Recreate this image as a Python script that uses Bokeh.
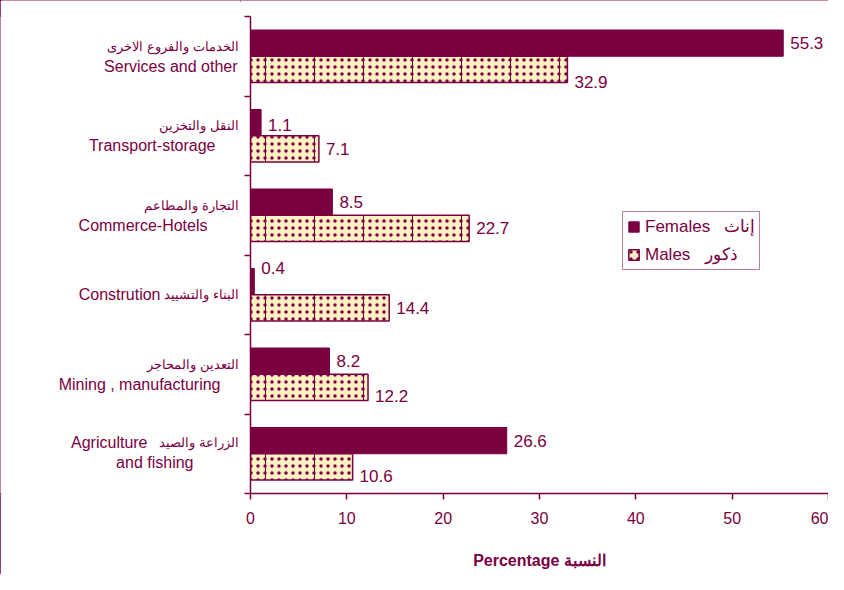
from bokeh.plotting import figure
from bokeh.layouts import row
from bokeh.models import Range1d, LinearAxis, FixedTicker, ColumnDataSource, LabelSet, Legend, LegendItem
from bokeh.core.properties import value
from bokeh.transform import dodge
from bokeh.embed import file_html
from bokeh.resources import INLINE

# ---- data (bottom to top) ----
sectors_en = ["Agriculture and fishing", "Mining , manufacturing", "Constrution",
              "Commerce-Hotels", "Transport-storage", "Services and other"]
sectors_ar = ["الزراعة والصيد", "التعدين والمحاجر", "البناء والتشييد",
              "التجارة والمطاعم", "النقل والتخزين", "الخدمات والفروع الاخرى"]
females = [26.6, 8.2, 0.4, 8.5, 1.1, 55.3]
males = [10.6, 12.2, 14.4, 22.7, 7.1, 32.9]
x_ticks = [0, 10, 20, 30, 40, 50, 60]

MAROON = "#7A0042"
CREAM = "#FFF1C1"
FONT = "Liberation Sans"

idx = [i + 0.5 for i in range(len(sectors_en))]
yr = Range1d(0, len(sectors_en))

H, TOP, BOT = 574, 16, 81
LW, B = 240, 10

# ---- left panel with the category labels ----
pl = figure(width=LW, height=H, output_backend="svg", toolbar_location=None,
            x_range=Range1d(0, 1), y_range=yr, x_axis_location=None, y_axis_location=None,
            min_border_left=0, min_border_right=0, min_border_top=TOP, min_border_bottom=BOT)
pl.outline_line_color = None
pl.xgrid.visible = False
pl.ygrid.visible = False
pl.styles = {"box-shadow": "inset 2px 0 0 0 #7A0042, inset 0 2px 0 0 #B0608C"}

# layout of each text line: (text, right-edge offset px, vertical offset px)
en_lines, ar_lines = [], []
for i, (en, ar) in enumerate(zip(sectors_en, sectors_ar)):
    y = idx[i]
    if en == "Constrution":
        en_lines.append((y, en, -80, 0))
        ar_lines.append((y, ar, -2, 0))
    elif en.startswith("Agriculture"):
        en_lines.append((y, "Agriculture", -93, -11))
        en_lines.append((y, "and fishing", -47, 9))
        ar_lines.append((y, ar, -2, -11))
    else:
        eoff = {"Services and other": -3, "Transport-storage": -25,
                "Commerce-Hotels": -33, "Mining , manufacturing": -20}[en]
        ar_lines.append((y, ar, -2, -10))
        en_lines.append((y, en, eoff, 10))

for lines, size in ((en_lines, "16px"), (ar_lines, "13px")):
    s = ColumnDataSource(dict(x=[1] * len(lines), y=[l[0] for l in lines], t=[l[1] for l in lines],
                              xo=[l[2] for l in lines], yo=[l[3] for l in lines]))
    pl.text(x="x", y="y", text="t", x_offset="xo", y_offset="yo", source=s,
            text_align="right", text_baseline="middle", text_font=value(FONT),
            text_font_size=size, text_color=MAROON)

# ---- main chart ----
p = figure(width=B + 578, height=H, output_backend="svg", toolbar_location=None,
           x_range=Range1d(0, 60), y_range=yr,
           x_axis_location=None, y_axis_location=None,
           min_border_left=B, min_border_right=0, min_border_top=TOP, min_border_bottom=BOT)
p.outline_line_color = None
p.xgrid.visible = False
p.ygrid.visible = False
p.background_fill_color = "white"
p.border_fill_color = "white"
p.styles = {"box-shadow": "inset 0 2px 0 0 #B0608C"}

src = ColumnDataSource(dict(y=idx, f=females, m=males))

BH = 0.33
rf = p.hbar(y=dodge("y", 0.165), right="f", left=0, height=BH, source=src,
            fill_color=MAROON, line_color=MAROON, line_width=1)
rm = p.hbar(y=dodge("y", -0.165), right="m", left=0, height=BH, source=src,
            fill_color=CREAM, line_color=MAROON, line_width=1.5,
            hatch_pattern="dot", hatch_color=MAROON, hatch_scale=7, hatch_weight=1.2)
p.hbar(y=dodge("y", -0.165), right="m", left=0, height=BH, source=src,
       fill_alpha=0, line_alpha=0,
       hatch_pattern="vertical_line", hatch_color=MAROON, hatch_scale=49, hatch_weight=1)

xa = LinearAxis(ticker=FixedTicker(ticks=x_ticks))
xa.axis_label = "Percentage النسبة"
xa.axis_label_text_font = FONT
xa.axis_label_text_font_size = "16px"
xa.axis_label_text_font_style = "bold"
xa.axis_label_text_color = MAROON
xa.axis_label_standoff = 25
xa.axis_line_color = MAROON
xa.axis_line_width = 1.5
xa.major_tick_line_color = MAROON
xa.major_tick_line_width = 1.5
xa.major_tick_out = 6
xa.major_tick_in = 0
xa.minor_tick_line_color = None
xa.major_label_text_font = FONT
xa.major_label_text_font_size = "16px"
xa.major_label_text_color = MAROON
xa.major_label_standoff = 12
p.add_layout(xa, "below")

ya = LinearAxis(ticker=FixedTicker(ticks=list(range(len(sectors_en) + 1))))
ya.axis_line_color = MAROON
ya.axis_line_width = 1.5
ya.major_tick_line_color = MAROON
ya.major_tick_line_width = 1.5
ya.major_tick_out = 6
ya.major_tick_in = 0
ya.minor_tick_line_color = None
ya.major_label_text_font_size = "0px"
ya.major_label_text_color = None
ya.major_label_standoff = 0
p.add_layout(ya, "left")

# value labels (vertical displacement in px, like the original's label placement)
f_shift = [0, 0, 14, 0, -2, 0]
m_shift = [-9, -9, 0, 0, 0, -13]
vsrc = ColumnDataSource(dict(
    x=females + males,
    y=[v + 0.165 for v in idx] + [v - 0.165 for v in idx],
    t=[f"{v:.1f}" for v in females] + [f"{v:.1f}" for v in males],
    yo=f_shift + m_shift))
p.add_layout(LabelSet(x="x", y="y", text="t", x_offset=7, y_offset="yo", source=vsrc,
                      text_align="left", text_baseline="middle", text_font=value(FONT),
                      text_font_size="17px", text_color=MAROON))

legend = Legend(items=[LegendItem(label="Females\u00a0\u00a0\u00a0إناث", renderers=[rf]),
                       LegendItem(label="Males\u00a0\u00a0\u00a0ذكور", renderers=[rm])],
                location=(372, 223))
legend.label_text_font = FONT
legend.label_text_font_size = "17px"
legend.label_text_color = MAROON
legend.border_line_color = MAROON
legend.border_line_width = 1.5
legend.glyph_width = 13
legend.glyph_height = 13
legend.label_standoff = 5
legend.padding = 4
legend.spacing = 7
legend.margin = 0
legend.label_height = 20
legend.background_fill_alpha = 1
p.add_layout(legend, "center")

layout = row(pl, p, spacing=0)
open("out.html", "w").write(file_html(layout, INLINE))
